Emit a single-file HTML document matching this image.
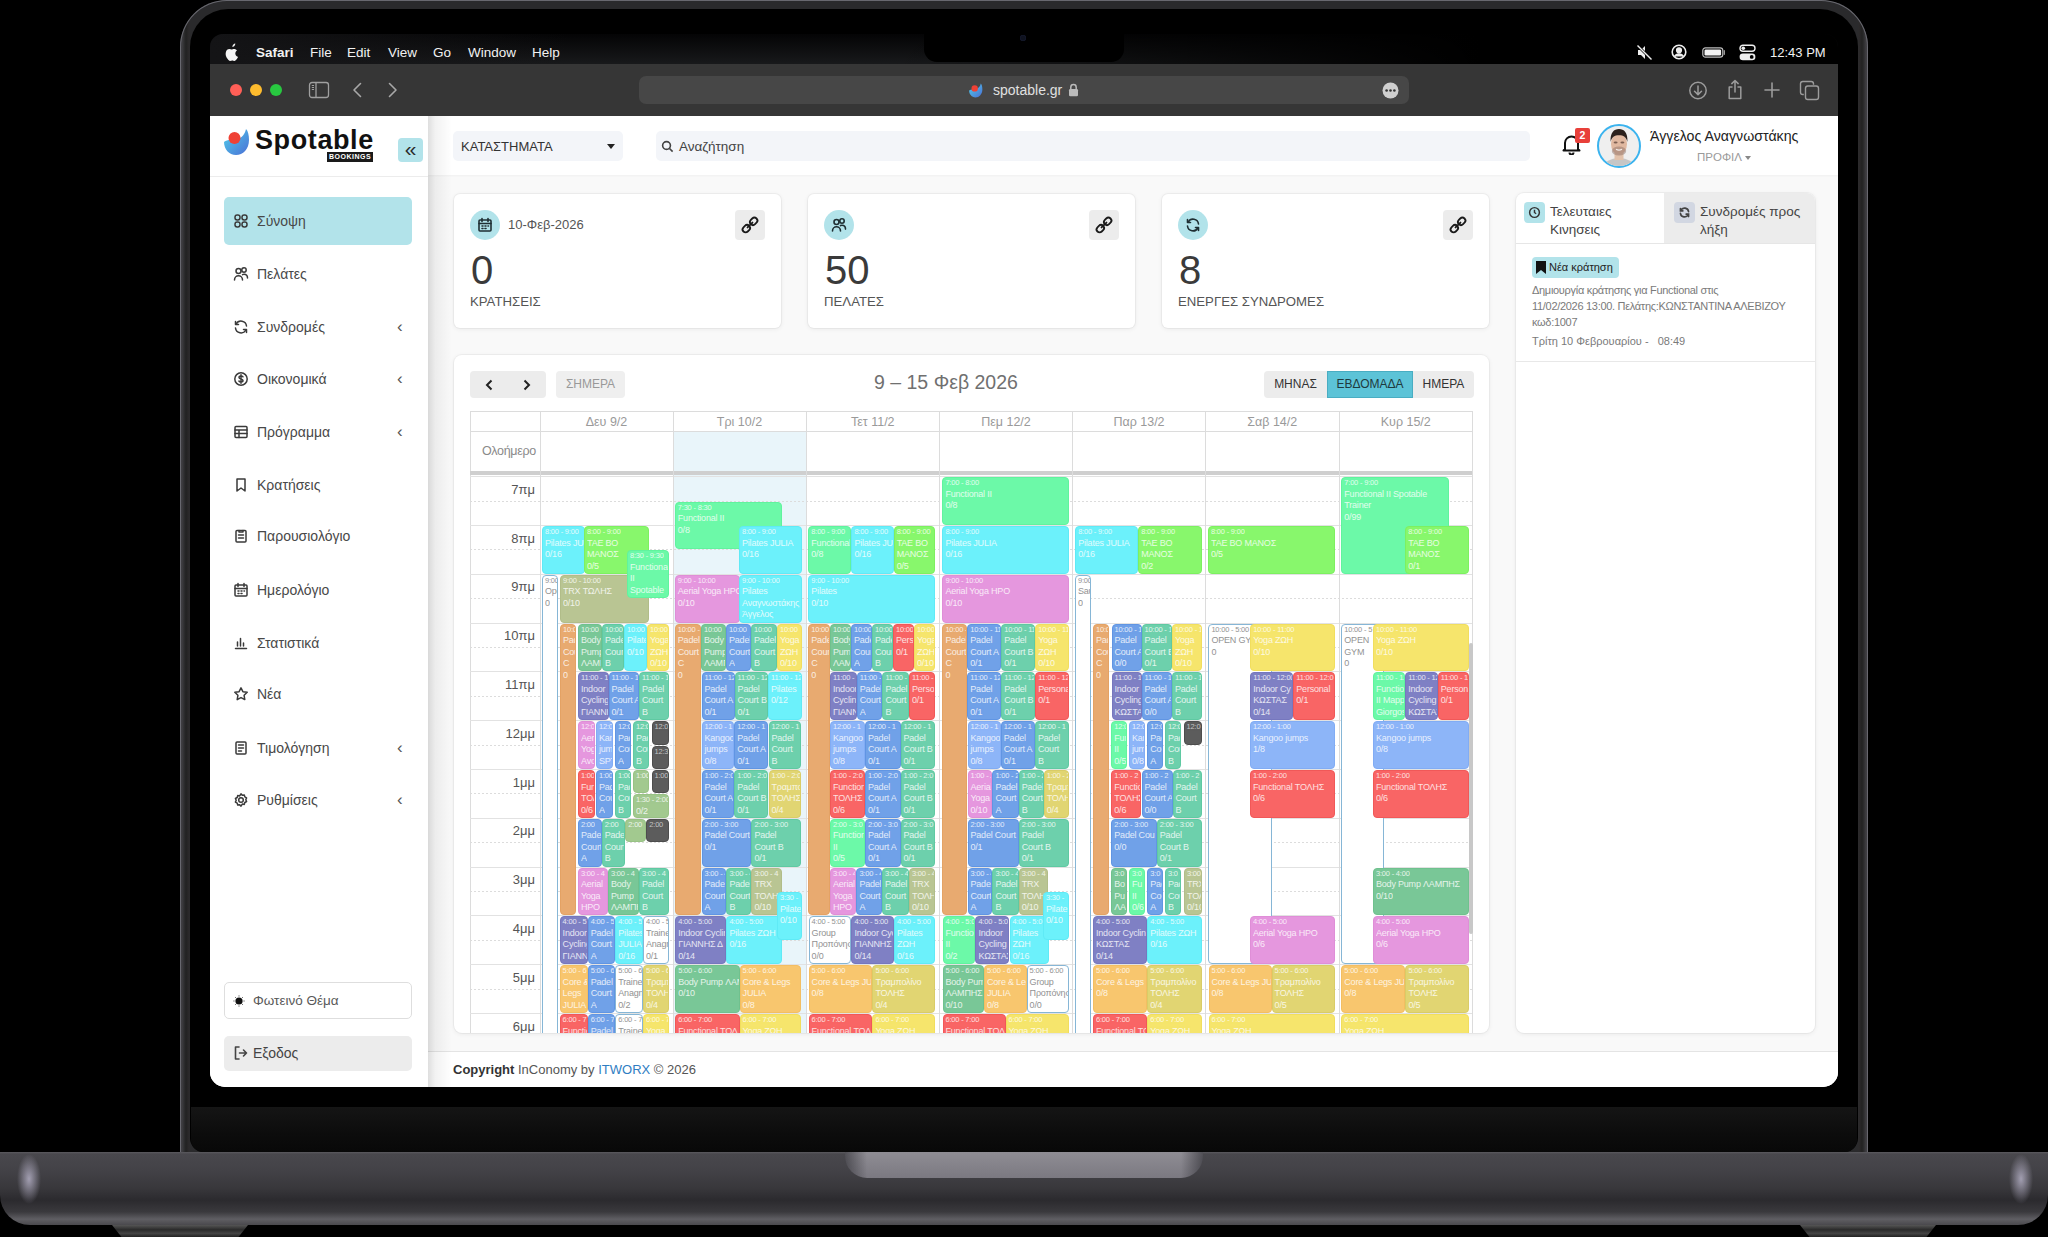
<!DOCTYPE html>
<html><head><meta charset="utf-8"><title>Spotable</title>
<style>
*{margin:0;padding:0;box-sizing:border-box}
html,body{width:2048px;height:1237px;overflow:hidden;background:#000;font-family:"Liberation Sans",sans-serif}
.abs,div,svg{position:absolute}
/* laptop */
.lid{left:180px;top:0;width:1688px;height:1160px;border-radius:47px 47px 0 0;background:linear-gradient(90deg,#403f43 0,#3e3d41 2px,#2b2b2c 4.5px,#222 6px,#2c2a2b 9px,#2a2a2c 10px,#2a2a2c calc(100% - 10px),#2c2a2b calc(100% - 9px),#222 calc(100% - 6px),#2b2b2c calc(100% - 4.5px),#3e3d41 calc(100% - 2px),#403f43 100%);}
.lid:before{content:"";position:absolute;left:0;top:0;right:0;bottom:0;border-radius:47px 47px 0 0;box-shadow:inset 0 0 0 1px #68686f}
.lidin{left:190px;top:9px;width:1668px;height:1143px;border-radius:38px 38px 14px 14px;background:#000}
.strip{left:191px;top:1107px;width:1666px;height:45px;border-radius:0 0 12px 12px;background:linear-gradient(180deg,#151515,#0c0c0c 60%,#080808)}
.base{left:0;top:1152px;width:2048px;height:73px;border-radius:0 0 30px 30px;background:linear-gradient(180deg,#5b5a5f 0,#49484d 2px,#434247 25%,#38373b 50%,#2b2a2e 66%,#3a393d 82%,#5f5e63 92%,#4a494d 100%)}
.hilite{top:1154px;width:30px;height:50px;background:radial-gradient(ellipse 40% 50% at center,rgba(205,200,225,.7),rgba(205,200,225,0) 100%)}
.thumb{left:845px;top:1152px;width:358px;height:26px;border-radius:0 0 22px 22px;background:linear-gradient(90deg,rgba(30,30,35,.55) 0,rgba(30,30,35,0) 22px,rgba(30,30,35,0) 336px,rgba(30,30,35,.55) 100%),linear-gradient(180deg,#8f8d94,#7b7981);}
.foot{top:1225px;width:136px;height:12px;background:linear-gradient(180deg,#555,#2a2a2a 40%,#444 70%,#222);clip-path:polygon(0 0,100% 0,93% 100%,7% 100%)}
.screen{left:210px;top:34px;width:1628px;height:1053px;border-radius:13px 13px 15px 15px;overflow:hidden;background:#000}
.pg{left:-210px;top:-34px;width:2048px;height:1237px}
.menubar{left:210px;top:34px;width:1628px;height:30px;background:linear-gradient(90deg,rgba(0,0,0,0) 42%,#000 78%),linear-gradient(90deg,#141416 0,rgba(20,20,22,0) 22%),linear-gradient(180deg,#040405,#18191b)}
.mi{top:45px;font-size:13.5px;color:#f2f2f2;line-height:16px;white-space:nowrap}
.toolbar{left:210px;top:64px;width:1628px;height:52px;background:#363636}
.tl3{width:12px;height:12px;border-radius:50%;top:84px}
.addr{left:639px;top:76px;width:770px;height:28px;border-radius:7px;background:#474747}
.notch{left:924px;top:9px;width:200px;height:53px;border-radius:0 0 13px 13px;background:#000}
/* page */
.web{left:210px;top:116px;width:1628px;height:971px;background:#f9f9f9}
.side{left:210px;top:116px;width:218px;height:971px;background:#fff}
.sshadow{left:428px;top:116px;width:24px;height:971px;background:linear-gradient(90deg,rgba(0,0,0,.13),rgba(0,0,0,.05) 30%,rgba(0,0,0,0))}
.topbar{left:428px;top:116px;width:1410px;height:59px;background:#fff;box-shadow:0 1px 2px rgba(0,0,0,.04)}
.nv{left:257px;font-size:14px;color:#484848;line-height:18px;white-space:nowrap}
.chev{left:397px;font-size:17px;color:#555;line-height:17px}
.ic{position:absolute}
.card{background:#fff;border-radius:6px;box-shadow:0 0 0 1px rgba(0,0,0,.035),0 1px 5px rgba(0,0,0,.07)}
.hl{left:470px;width:1003px;height:1px;background:#e2e2e2}
.hd{left:470px;width:1003px;height:1px;background:repeating-linear-gradient(90deg,#dcdcdc 0,#dcdcdc 2px,transparent 2px,transparent 4px)}
.tl{left:470px;width:65px;text-align:right;font-size:13px;color:#555;line-height:16px}
.vl{top:411px;width:1px;height:640px;background:#dcdcdc}
.dh{top:412px;height:20px;text-align:center;font-size:12.5px;color:#9a9a9a;line-height:21px}
.ev{border:1px solid;border-radius:4px;overflow:hidden;padding:0 0 0 2px;white-space:nowrap;letter-spacing:-0.2px}
.et{position:relative;font-size:7.5px;line-height:10.5px;opacity:.8}
.el{position:relative;font-size:9px;line-height:11.5px;opacity:.8}

</style></head>
<body>
<div class="lid"></div>
<div class="lidin"></div>
<div class="strip"></div>
<div class="base"></div>
<div class="hilite" style="left:14px"></div>
<div class="hilite" style="left:2006px"></div>
<div class="thumb"></div>
<div class="foot" style="left:112px"></div>
<div class="foot" style="left:1800px"></div>

<div class="screen"><div class="pg">
  <div class="menubar"></div>
  <div class="mi" style="left:256px;font-weight:bold">Safari</div>
  <div class="mi" style="left:310px">File</div>
  <div class="mi" style="left:347px">Edit</div>
  <div class="mi" style="left:388px">View</div>
  <div class="mi" style="left:433px">Go</div>
  <div class="mi" style="left:468px">Window</div>
  <div class="mi" style="left:532px">Help</div>
  <div class="mi" style="left:1770px;font-size:13px">12:43 PM</div>

  <div class="toolbar"></div>
  <div class="tl3" style="left:230px;background:#ff5f57"></div>
  <div class="tl3" style="left:250px;background:#febc2e"></div>
  <div class="tl3" style="left:270px;background:#28c840"></div>
  <div class="addr"></div>
  <div class="mi" style="left:993px;top:82px;font-size:14px;color:#e0e0e0">spotable.gr</div>


  <svg style="left:224px;top:42px;width:16px;height:19px" viewBox="0 0 170 200"><path fill="#f5f5f5" d="M150 156c-4 9-8 17-14 25-8 11-15 19-25 19-8 0-13-5-23-5s-16 5-24 5c-10 0-17-9-25-20C22 161 12 132 20 105c5-18 19-31 37-31 10 0 18 6 24 6s15-7 27-6c5 0 20 2 30 16-1 1-18 11-18 32 0 26 23 35 24 35zM112 40c5-7 9-16 8-25-8 0-17 5-23 12-5 6-9 15-8 24 9 1 18-5 23-11z"/></svg>
  <svg style="left:1636px;top:44px;width:18px;height:17px" viewBox="0 0 18 17" fill="#eee"><path d="M2 6h3l4-4v13l-4-4H2z"/><path d="M1.5 1.5l14 14" stroke="#000" stroke-width="2.6"/><path d="M1.5 1.5l14 14" stroke="#eee" stroke-width="1.4"/></svg>
  <svg style="left:1671px;top:44px;width:16px;height:16px" viewBox="0 0 16 16" fill="none" stroke="#eee" stroke-width="1.6"><circle cx="8" cy="8" r="6.8"/><circle cx="8" cy="6.3" r="2.3" fill="#eee"/><path d="M3.5 12.6c1-1.8 2.6-2.6 4.5-2.6s3.5.8 4.5 2.6" fill="#eee"/></svg>
  <svg style="left:1702px;top:47px;width:24px;height:11px" viewBox="0 0 24 11"><rect x="0.8" y="0.8" width="20" height="9.4" rx="2.6" fill="none" stroke="#bbb" stroke-width="1.2"/><rect x="2.5" y="2.5" width="16.6" height="6" rx="1.3" fill="#f2f2f2"/><path d="M22.3 3.8v3.4" stroke="#999" stroke-width="1.4" stroke-linecap="round"/></svg>
  <svg style="left:1739px;top:44px;width:17px;height:17px" viewBox="0 0 17 17"><rect x="1" y="1.2" width="15" height="6" rx="3" fill="none" stroke="#eee" stroke-width="1.4"/><circle cx="4.3" cy="4.2" r="1.8" fill="#eee"/><rect x="0.6" y="9.6" width="15.8" height="6.6" rx="3.3" fill="#eee"/><circle cx="12.7" cy="12.9" r="1.9" fill="#000"/></svg>

  <svg style="left:308px;top:81px;width:22px;height:18px" viewBox="0 0 22 18" fill="none" stroke="#a0a0a0" stroke-width="1.3"><rect x="1.5" y="1.5" width="19" height="15" rx="2.5"/><path d="M8 1.5v15"/><path d="M3.8 4.5h2.2M3.8 6.5h2.2M3.8 8.5h2.2" stroke-width="1"/></svg>
  <svg style="left:351px;top:82px;width:12px;height:16px" viewBox="0 0 12 16" fill="none" stroke="#a8a8a8" stroke-width="1.6" stroke-linecap="round" stroke-linejoin="round"><path d="M9.5 1.5L3 8l6.5 6.5"/></svg>
  <svg style="left:387px;top:82px;width:12px;height:16px" viewBox="0 0 12 16" fill="none" stroke="#a8a8a8" stroke-width="1.6" stroke-linecap="round" stroke-linejoin="round"><path d="M2.5 1.5L9 8l-6.5 6.5"/></svg>
  <svg style="left:967px;top:82px;width:18px;height:17px" viewBox="0 0 30 32">
    <defs><linearGradient id="lg2" x1="0" y1="0" x2="1" y2="1"><stop offset="0" stop-color="#4fd0ea"/><stop offset="1" stop-color="#4b6fd6"/></linearGradient></defs>
    <path d="M2 16c0 7 5 13 12 13s13-6 13-15c0-5-1-9-3-11-1 5-4 9-9 10-5 1-9 0-13 3z" fill="url(#lg2)"/><circle cx="12.5" cy="12" r="6" fill="#ef4135"/></svg>
  <svg style="left:1068px;top:83px;width:11px;height:14px" viewBox="0 0 11 14"><path d="M2.8 6V4.3a2.7 2.7 0 0 1 5.4 0V6" fill="none" stroke="#bbb" stroke-width="1.5"/><rect x="1" y="6" width="9" height="7.2" rx="1.3" fill="#bbb"/></svg>
  <svg style="left:1382px;top:82px;width:17px;height:17px" viewBox="0 0 17 17"><circle cx="8.5" cy="8.5" r="8" fill="#cfcfcf"/><circle cx="4.6" cy="8.5" r="1.3" fill="#333"/><circle cx="8.5" cy="8.5" r="1.3" fill="#333"/><circle cx="12.4" cy="8.5" r="1.3" fill="#333"/></svg>
  <svg style="left:1688px;top:81px;width:20px;height:19px" viewBox="0 0 20 19" fill="none" stroke="#9c9c9c" stroke-width="1.5" stroke-linecap="round" stroke-linejoin="round"><circle cx="10" cy="9.5" r="8.2"/><path d="M10 5v8.5M6.5 10.2L10 13.6l3.5-3.4"/></svg>
  <svg style="left:1726px;top:79px;width:18px;height:21px" viewBox="0 0 18 21" fill="none" stroke="#9c9c9c" stroke-width="1.5" stroke-linecap="round" stroke-linejoin="round"><path d="M6 8H3.2v11.5h11.6V8H12"/><path d="M9 13V1.5M5.8 4.6L9 1.5l3.2 3.1"/></svg>
  <svg style="left:1763px;top:81px;width:18px;height:18px" viewBox="0 0 18 18" fill="none" stroke="#9c9c9c" stroke-width="1.6" stroke-linecap="round"><path d="M9 2v14M2 9h14"/></svg>
  <svg style="left:1799px;top:80px;width:22px;height:21px" viewBox="0 0 22 21" fill="none" stroke="#9c9c9c" stroke-width="1.4"><path d="M4.8 14.5H3.8a2.3 2.3 0 0 1-2.3-2.3V3.8a2.3 2.3 0 0 1 2.3-2.3h8.4a2.3 2.3 0 0 1 2.3 2.3v1"/><rect x="6.5" y="6" width="13" height="13.5" rx="2.3"/></svg>

  <div class="web"></div>
  <div class="topbar"></div>
  <div class="side"></div>

  <!-- sidebar header -->
  <div style="left:210px;top:176px;width:218px;height:1px;background:#ececec"></div>
  <svg style="left:222px;top:126px;width:30px;height:32px" viewBox="0 0 30 32">
    <defs><linearGradient id="lg1" x1="0" y1="0" x2="1" y2="1"><stop offset="0" stop-color="#4fd0ea"/><stop offset="1" stop-color="#4b6fd6"/></linearGradient></defs>
    <path d="M2 16c0 7 5 13 12 13s13-6 13-15c0-5-1-9-3-11-1 5-4 9-9 10-5 1-9 0-13 3z" fill="url(#lg1)"/>
    <circle cx="12.5" cy="12" r="6" fill="#ef4135"/>
  </svg>
  <div style="left:255px;top:121.5px;font-size:27px;font-weight:bold;color:#111;letter-spacing:0.6px;line-height:36px">Spotable</div>
  <div style="left:327px;top:152px;width:46px;height:10px;background:#1a1a1a;color:#fff;font-size:7px;font-weight:bold;line-height:10px;text-align:center;letter-spacing:.5px">BOOKINGS</div>
  <div style="left:398px;top:138px;width:25px;height:24px;border-radius:4px;background:#b2e3ea;color:#2a2a2a;font-size:21px;line-height:22px;text-align:center">&laquo;</div>
  <div style="left:224px;top:197px;width:188px;height:48px;border-radius:5px;background:#b2e3ea"></div>
  <svg class="ic" style="left:233px;top:213px;width:16px;height:16px" viewBox="0 0 16 16" fill="none" stroke="#3a3a3a" stroke-width="1.5" stroke-linecap="round" stroke-linejoin="round"><rect x="2" y="2" width="5" height="5" rx="2.2"/><rect x="9" y="2" width="5" height="5" rx="2.2"/><rect x="2" y="9" width="5" height="5" rx="2.2"/><rect x="9" y="9" width="5" height="5" rx="2.2"/></svg>
<div class="nv" style="top:212px">Σύνοψη</div>
<svg class="ic" style="left:233px;top:266px;width:16px;height:16px" viewBox="0 0 16 16" fill="none" stroke="#3a3a3a" stroke-width="1.5" stroke-linecap="round" stroke-linejoin="round"><circle cx="5.5" cy="5" r="2.5"/><path d="M1.5 14c0-2.5 1.8-4.2 4-4.2s4 1.7 4 4.2"/><circle cx="11" cy="4" r="2.2"/><path d="M9.5 8.6c.5-.2 1-.3 1.5-.3 2 0 3.5 1.6 3.5 3.8"/></svg>
<div class="nv" style="top:265px">Πελάτες</div>
<svg class="ic" style="left:233px;top:319px;width:16px;height:16px" viewBox="0 0 16 16" fill="none" stroke="#3a3a3a" stroke-width="1.5" stroke-linecap="round" stroke-linejoin="round"><path d="M13.5 7A5.5 5.5 0 0 0 3.2 5"/><path d="M2.5 9a5.5 5.5 0 0 0 10.3 2"/><path d="M2.5 2.5v3h3"/><path d="M13.5 13.5v-3h-3"/></svg>
<div class="nv" style="top:318px">Συνδρομές</div>
<div class="chev" style="top:318px">&lsaquo;</div>
<svg class="ic" style="left:233px;top:371px;width:16px;height:16px" viewBox="0 0 16 16" fill="none" stroke="#3a3a3a" stroke-width="1.5" stroke-linecap="round" stroke-linejoin="round"><circle cx="8" cy="8" r="6.2"/><path d="M10 5.8c-.4-.6-1.1-.9-2-.9-1.2 0-2 .6-2 1.5 0 2 4 1.1 4 3.1 0 .9-.8 1.5-2 1.5-.9 0-1.7-.4-2.1-1M8 3.8v8.4"/></svg>
<div class="nv" style="top:370px">Οικονομικά</div>
<div class="chev" style="top:370px">&lsaquo;</div>
<svg class="ic" style="left:233px;top:424px;width:16px;height:16px" viewBox="0 0 16 16" fill="none" stroke="#3a3a3a" stroke-width="1.5" stroke-linecap="round" stroke-linejoin="round"><rect x="2" y="2.5" width="12" height="11" rx="1"/><path d="M2 6h12M2 9.5h12M6 6v7.5"/></svg>
<div class="nv" style="top:423px">Πρόγραμμα</div>
<div class="chev" style="top:423px">&lsaquo;</div>
<svg class="ic" style="left:233px;top:477px;width:16px;height:16px" viewBox="0 0 16 16" fill="none" stroke="#3a3a3a" stroke-width="1.5" stroke-linecap="round" stroke-linejoin="round"><path d="M4 2h8v12l-4-3-4 3z"/></svg>
<div class="nv" style="top:476px">Κρατήσεις</div>
<svg class="ic" style="left:233px;top:528px;width:16px;height:16px" viewBox="0 0 16 16" fill="none" stroke="#3a3a3a" stroke-width="1.5" stroke-linecap="round" stroke-linejoin="round"><rect x="3" y="2.5" width="10" height="11.5" rx="1"/><path d="M6 2.5v1.5h4V2.5M5.5 7h5M5.5 10h5"/></svg>
<div class="nv" style="top:527px">Παρουσιολόγιο</div>
<svg class="ic" style="left:233px;top:582px;width:16px;height:16px" viewBox="0 0 16 16" fill="none" stroke="#3a3a3a" stroke-width="1.5" stroke-linecap="round" stroke-linejoin="round"><rect x="2" y="3" width="12" height="11" rx="1"/><path d="M2 6.5h12M5 1.5v3M11 1.5v3M5 9h1M8 9h1M11 9h.5M5 11.5h1M8 11.5h1"/></svg>
<div class="nv" style="top:581px">Ημερολόγιο</div>
<svg class="ic" style="left:233px;top:635px;width:16px;height:16px" viewBox="0 0 16 16" fill="none" stroke="#3a3a3a" stroke-width="1.5" stroke-linecap="round" stroke-linejoin="round"><path d="M2.5 13.5h11M4.5 11V7M7.5 11V3.5M10.5 11V8"/></svg>
<div class="nv" style="top:634px">Στατιστικά</div>
<svg class="ic" style="left:233px;top:686px;width:16px;height:16px" viewBox="0 0 16 16" fill="none" stroke="#3a3a3a" stroke-width="1.5" stroke-linecap="round" stroke-linejoin="round"><path d="M8 1.8l1.9 3.9 4.3.6-3.1 3 .7 4.3L8 11.6l-3.8 2 .7-4.3-3.1-3 4.3-.6z"/></svg>
<div class="nv" style="top:685px">Νέα</div>
<svg class="ic" style="left:233px;top:740px;width:16px;height:16px" viewBox="0 0 16 16" fill="none" stroke="#3a3a3a" stroke-width="1.5" stroke-linecap="round" stroke-linejoin="round"><rect x="3" y="2" width="10" height="12" rx="1"/><path d="M5.5 5h5M5.5 8h5M5.5 11h3"/></svg>
<div class="nv" style="top:739px">Τιμολόγηση</div>
<div class="chev" style="top:739px">&lsaquo;</div>
<svg class="ic" style="left:233px;top:792px;width:16px;height:16px" viewBox="0 0 16 16" fill="none" stroke="#3a3a3a" stroke-width="1.5" stroke-linecap="round" stroke-linejoin="round"><circle cx="8" cy="8" r="2.3"/><path d="M8 1.8l1.3 1.5 2-.3.5 1.9 1.8 1-.8 1.8.8 1.8-1.8 1-.5 1.9-2-.3L8 14.2l-1.3-1.5-2 .3-.5-1.9-1.8-1 .8-1.8-.8-1.8 1.8-1 .5-1.9 2 .3z"/></svg>
<div class="nv" style="top:791px">Ρυθμίσεις</div>
<div class="chev" style="top:791px">&lsaquo;</div>
  <div style="left:224px;top:982px;width:188px;height:37px;border-radius:5px;border:1.5px solid #dedede;background:#fff"></div>
  <svg class="ic" style="left:233px;top:995px;width:12px;height:12px" viewBox="0 0 12 12"><circle cx="6" cy="6" r="3.6" fill="#111"/><path d="M6 .3v1.3M6 10.4v1.3M.3 6h1.3M10.4 6h1.3M2 2l.9.9M9.1 9.1l.9.9M2 10l.9-.9M9.1 2.9l.9-.9" stroke="#555" stroke-width=".9"/></svg>
  <div class="nv" style="left:253px;top:992px;font-size:13.5px;color:#5a5a5a">Φωτεινό Θέμα</div>
  <div style="left:224px;top:1036px;width:188px;height:35px;border-radius:5px;background:#ececec"></div>
  <svg class="ic" style="left:233px;top:1045px;width:16px;height:16px" viewBox="0 0 16 16" fill="none" stroke="#444" stroke-width="1.6" stroke-linecap="round" stroke-linejoin="round"><path d="M6 2H2.5v12H6M6.5 8h7M10.5 5l3 3-3 3"/></svg>
  <div class="nv" style="left:253px;top:1044px;font-size:14px;color:#444">Εξοδος</div>

  <!-- topbar -->
  <div style="left:453px;top:131px;width:170px;height:30px;border-radius:5px;background:#f3f5f9"></div>
  <div style="left:461px;top:139px;font-size:13px;color:#333;line-height:15px">ΚΑΤΑΣΤΗΜΑΤΑ</div>
  <div style="left:607px;top:144px;width:0;height:0;border-left:4px solid transparent;border-right:4px solid transparent;border-top:5px solid #222"></div>
  <div style="left:656px;top:131px;width:874px;height:30px;border-radius:5px;background:#f3f5f9"></div>
  <svg class="ic" style="left:661px;top:140px;width:13px;height:13px" viewBox="0 0 16 16" fill="none" stroke="#444" stroke-width="2"><circle cx="6.8" cy="6.8" r="4.8"/><path d="M10.5 10.5l3.8 3.8"/></svg>
  <div style="left:679px;top:139px;font-size:13.5px;color:#444;line-height:15px">Αναζήτηση</div>
  <svg class="ic" style="left:1562px;top:133px;width:19px;height:22px" viewBox="0 0 19 22" fill="none" stroke="#111" stroke-width="2" stroke-linejoin="round"><path d="M3 16V10a6.5 6.5 0 0 1 13 0v6l1.5 1.5h-16z"/><path d="M7.5 19.5a2 2 0 0 0 4 0"/></svg>
  <div style="left:1575px;top:128px;width:15px;height:15px;border-radius:2px;background:#e8403a;color:#fff;font-size:10.5px;font-weight:bold;line-height:15px;text-align:center">2</div>
  <div style="left:1597px;top:124px;width:44px;height:44px;border-radius:50%;border:2px solid #3bb3ee;background:#efefef;overflow:hidden">
    <svg style="left:0;top:0;width:40px;height:40px" viewBox="0 0 40 40">
      <ellipse cx="20" cy="41" rx="15.5" ry="9" fill="#c6c6c6"/>
      <rect x="15.5" y="25" width="9" height="9" fill="#e2c2ab"/>
      <ellipse cx="20" cy="18" rx="8" ry="10.5" fill="#e0b8a0"/>
      <ellipse cx="20" cy="25" rx="7.2" ry="4.6" fill="#8f746a" opacity=".5"/>
      <path d="M11.6 16C11 6.5 15 3 20 3s9 3.5 8.4 13c-1-5-4-6.8-8.4-6.8S12.6 11 11.6 16z" fill="#2b211d"/>
      <ellipse cx="16.6" cy="16.5" rx="2" ry="1.1" fill="#5b4238" opacity=".75"/>
      <ellipse cx="23.4" cy="16.5" rx="2" ry="1.1" fill="#5b4238" opacity=".75"/>
      <path d="M17 23.2q3 1.8 6 0" stroke="#f4ece8" stroke-width="1.3" fill="none"/>
    </svg>
  </div>
  <div style="left:1650px;top:128px;font-size:14.2px;color:#222;line-height:17px;white-space:nowrap">Άγγελος Αναγνωστάκης</div>
  <div style="left:1697px;top:151px;font-size:11.5px;color:#9a9a9a;line-height:13px">ΠΡΟΦΙΛ</div>
  <div style="left:1745px;top:156px;width:0;height:0;border-left:3.5px solid transparent;border-right:3.5px solid transparent;border-top:4px solid #888"></div>

  <!-- stat cards -->
  <div class="card" style="left:454px;top:194px;width:327px;height:134px"></div>
  <div class="card" style="left:808px;top:194px;width:327px;height:134px"></div>
  <div class="card" style="left:1162px;top:194px;width:327px;height:134px"></div>
  <div style="left:470px;top:210px;width:30px;height:30px;border-radius:50%;background:#b2e3ea"></div>
<svg class="ic" style="left:477px;top:217px;width:16px;height:16px" viewBox="0 0 16 16" fill="none" stroke="#1f2f33" stroke-width="1.6" stroke-linecap="round" stroke-linejoin="round"><rect x="2" y="3" width="12" height="11" rx="1"/><path d="M2 6.5h12M5 1.5v3M11 1.5v3M5 9h1M8 9h1M11 9h.5M5 11.5h1M8 11.5h1"/></svg>
<div style="left:508px;top:217px;font-size:13px;color:#555;line-height:16px">10-Φεβ-2026</div>
<div style="left:735px;top:210px;width:30px;height:30px;border-radius:4px;background:#ececec"></div>
<svg class="ic" style="left:739px;top:214px;width:22px;height:22px" viewBox="0 0 22 22" fill="none" stroke="#1a1a1a" stroke-width="1.8" stroke-linecap="round"><g transform="rotate(-45 11 11)"><rect x="1.8" y="8" width="8" height="6" rx="3"/><rect x="12.2" y="8" width="8" height="6" rx="3"/><path d="M7.5 11h7"/></g></svg>
<div style="left:471px;top:248px;font-size:40px;color:#3a3a3a;line-height:44px">0</div>
<div style="left:470px;top:294px;font-size:13.2px;color:#555;line-height:16px;white-space:nowrap">ΚΡΑΤΗΣΕΙΣ</div>
<div style="left:824px;top:210px;width:30px;height:30px;border-radius:50%;background:#b2e3ea"></div>
<svg class="ic" style="left:831px;top:217px;width:16px;height:16px" viewBox="0 0 16 16" fill="none" stroke="#1f2f33" stroke-width="1.6" stroke-linecap="round" stroke-linejoin="round"><circle cx="5.5" cy="5" r="2.5"/><path d="M1.5 14c0-2.5 1.8-4.2 4-4.2s4 1.7 4 4.2"/><circle cx="11" cy="4" r="2.2"/><path d="M9.5 8.6c.5-.2 1-.3 1.5-.3 2 0 3.5 1.6 3.5 3.8"/></svg>
<div style="left:1089px;top:210px;width:30px;height:30px;border-radius:4px;background:#ececec"></div>
<svg class="ic" style="left:1093px;top:214px;width:22px;height:22px" viewBox="0 0 22 22" fill="none" stroke="#1a1a1a" stroke-width="1.8" stroke-linecap="round"><g transform="rotate(-45 11 11)"><rect x="1.8" y="8" width="8" height="6" rx="3"/><rect x="12.2" y="8" width="8" height="6" rx="3"/><path d="M7.5 11h7"/></g></svg>
<div style="left:825px;top:248px;font-size:40px;color:#3a3a3a;line-height:44px">50</div>
<div style="left:824px;top:294px;font-size:13.2px;color:#555;line-height:16px;white-space:nowrap">ΠΕΛΑΤΕΣ</div>
<div style="left:1178px;top:210px;width:30px;height:30px;border-radius:50%;background:#b2e3ea"></div>
<svg class="ic" style="left:1185px;top:217px;width:16px;height:16px" viewBox="0 0 16 16" fill="none" stroke="#1f2f33" stroke-width="1.6" stroke-linecap="round" stroke-linejoin="round"><path d="M13.5 7A5.5 5.5 0 0 0 3.2 5"/><path d="M2.5 9a5.5 5.5 0 0 0 10.3 2"/><path d="M2.5 2.5v3h3"/><path d="M13.5 13.5v-3h-3"/></svg>
<div style="left:1443px;top:210px;width:30px;height:30px;border-radius:4px;background:#ececec"></div>
<svg class="ic" style="left:1447px;top:214px;width:22px;height:22px" viewBox="0 0 22 22" fill="none" stroke="#1a1a1a" stroke-width="1.8" stroke-linecap="round"><g transform="rotate(-45 11 11)"><rect x="1.8" y="8" width="8" height="6" rx="3"/><rect x="12.2" y="8" width="8" height="6" rx="3"/><path d="M7.5 11h7"/></g></svg>
<div style="left:1179px;top:248px;font-size:40px;color:#3a3a3a;line-height:44px">8</div>
<div style="left:1178px;top:294px;font-size:13.2px;color:#555;line-height:16px;white-space:nowrap">ΕΝΕΡΓΕΣ ΣΥΝΔΡΟΜΕΣ</div>

  <!-- right panel -->
  <div class="card" style="left:1516px;top:193px;width:299px;height:840px;border-radius:8px"></div>
  <div style="left:1664px;top:193px;width:151px;height:50px;background:#ececec;border-radius:0 8px 0 0"></div>
  <div style="left:1516px;top:243px;width:299px;height:1px;background:#e6e6e6"></div>
  <div style="left:1524px;top:202px;width:21px;height:21px;border-radius:4px;background:#b2e3ea"></div>
  <svg class="ic" style="left:1528px;top:206px;width:13px;height:13px" viewBox="0 0 16 16" fill="none" stroke="#333" stroke-width="1.8"><circle cx="8" cy="8" r="6"/><path d="M8 4.5V8l2 1.5"/></svg>
  <div style="left:1550px;top:203px;font-size:13.5px;color:#444;line-height:18px">Τελευταιες<br>Κινησεις</div>
  <div style="left:1674px;top:202px;width:21px;height:21px;border-radius:4px;background:#d2d7e2"></div>
  <svg class="ic" style="left:1678px;top:206px;width:13px;height:13px" viewBox="0 0 16 16" fill="none" stroke="#444" stroke-width="2" stroke-linecap="round"><path d="M13 7A5 5 0 0 0 3.5 5.5M3 9a5 5 0 0 0 9.5 1.5M3 3v3h3M13 13v-3h-3"/></svg>
  <div style="left:1700px;top:203px;font-size:13.5px;color:#444;line-height:18px;white-space:nowrap">Συνδρομές προς<br>λήξη</div>
  <div style="left:1532px;top:257px;width:87px;height:21px;border-radius:4px;background:#b2e3ea"></div>
  <svg class="ic" style="left:1536px;top:261px;width:10px;height:13px" viewBox="0 0 10 13"><path d="M0 0h10v13L5 9 0 13z" fill="#111"/></svg>
  <div style="left:1549px;top:261px;font-size:11px;color:#222;line-height:13px;white-space:nowrap">Νέα κράτηση</div>
  <div style="left:1532px;top:282px;font-size:11px;color:#7a7a7a;line-height:16.2px;white-space:nowrap;letter-spacing:-0.3px">Δημιουργία κράτησης για Functional στις<br>11/02/2026 13:00. Πελάτης:ΚΩΝΣΤΑΝΤΙΝΑ ΑΛΕΒΙΖΟΥ<br>κωδ:1007</div>
  <div style="left:1532px;top:334px;font-size:11px;color:#7a7a7a;line-height:14px;white-space:pre">Τρίτη 10 Φεβρουαρίου -   08:49</div>
  <div style="left:1516px;top:361px;width:299px;height:1px;background:#e8e8e8"></div>

  <!-- calendar -->
  <div class="card" style="left:454px;top:355px;width:1035px;height:678px;border-radius:8px"></div>
  <div style="left:470px;top:371px;width:76px;height:27px;border-radius:4px;background:#ececec"></div>
  <svg class="ic" style="left:483px;top:378px;width:12px;height:14px" viewBox="0 0 12 14" fill="none" stroke="#222" stroke-width="2"><path d="M8.5 2.5L4 7l4.5 4.5"/></svg>
  <svg class="ic" style="left:521px;top:378px;width:12px;height:14px" viewBox="0 0 12 14" fill="none" stroke="#222" stroke-width="2"><path d="M3.5 2.5L8 7l-4.5 4.5"/></svg>
  <div style="left:556px;top:371px;width:69px;height:27px;border-radius:4px;background:#efefef;color:#999;font-size:12px;line-height:27px;text-align:center">ΣΗΜΕΡΑ</div>
  <div style="left:874px;top:370px;font-size:19.5px;color:#707070;line-height:24px;white-space:nowrap">9 – 15 Φεβ 2026</div>
  <div style="left:1264px;top:371px;width:210px;height:27px;border-radius:4px;background:#ececec"></div>
  <div style="left:1327px;top:371px;width:86px;height:27px;background:#5cc3d7;border:1px solid #49adc2"></div>
  <div style="left:1264px;top:371px;width:63px;font-size:12px;color:#333;line-height:27px;text-align:center">ΜΗΝΑΣ</div>
  <div style="left:1327px;top:371px;width:86px;font-size:12px;color:#1f3a40;line-height:27px;text-align:center">ΕΒΔΟΜΑΔΑ</div>
  <div style="left:1413px;top:371px;width:61px;font-size:12px;color:#333;line-height:27px;text-align:center">ΗΜΕΡΑ</div>

  <div style="left:470px;top:411px;width:1003px;height:622px;border:1px solid #dcdcdc;border-bottom:none"></div>
  <div style="left:673px;top:431px;width:133px;height:602px;background:#e9f5fa"></div>
  <div style="left:470px;top:431px;width:1003px;height:1px;background:#dcdcdc"></div>
  <div style="left:470px;top:436px;width:66px;text-align:right;font-size:12.5px;color:#8a8a8a;line-height:30px;letter-spacing:-0.3px">Ολοήμερο</div>
  <div style="left:470px;top:471px;width:1003px;height:4px;background:#cfcfcf"></div>
  <div style="left:0;top:0;width:2048px;height:1033px;overflow:hidden">
    <div class="hl" style="top:476.2px"></div>
<div class="hd" style="top:500.6px"></div>
<div class="hl" style="top:525.0px"></div>
<div class="hd" style="top:549.4px"></div>
<div class="hl" style="top:573.8px"></div>
<div class="hd" style="top:598.2px"></div>
<div class="hl" style="top:622.6px"></div>
<div class="hd" style="top:647.0px"></div>
<div class="hl" style="top:671.4px"></div>
<div class="hd" style="top:695.8px"></div>
<div class="hl" style="top:720.2px"></div>
<div class="hd" style="top:744.6px"></div>
<div class="hl" style="top:769.0px"></div>
<div class="hd" style="top:793.4px"></div>
<div class="hl" style="top:817.8px"></div>
<div class="hd" style="top:842.2px"></div>
<div class="hl" style="top:866.6px"></div>
<div class="hd" style="top:891.0px"></div>
<div class="hl" style="top:915.4px"></div>
<div class="hd" style="top:939.8px"></div>
<div class="hl" style="top:964.2px"></div>
<div class="hd" style="top:988.6px"></div>
<div class="hl" style="top:1013.0px"></div>
<div class="hd" style="top:1037.4px"></div>
<div class="hl" style="top:1061.8px"></div>
<div class="hd" style="top:1086.2px"></div>
<div class="tl" style="top:481.7px">7πμ</div>
<div class="tl" style="top:530.5px">8πμ</div>
<div class="tl" style="top:579.3px">9πμ</div>
<div class="tl" style="top:628.1px">10πμ</div>
<div class="tl" style="top:676.9px">11πμ</div>
<div class="tl" style="top:725.7px">12μμ</div>
<div class="tl" style="top:774.5px">1μμ</div>
<div class="tl" style="top:823.3px">2μμ</div>
<div class="tl" style="top:872.1px">3μμ</div>
<div class="tl" style="top:920.9px">4μμ</div>
<div class="tl" style="top:969.7px">5μμ</div>
<div class="tl" style="top:1018.5px">6μμ</div>
<div class="tl" style="top:1067.3px">7μμ</div>
    <div class="dh" style="left:540.0px;width:133.0px">Δευ 9/2</div>
<div class="dh" style="left:673.0px;width:133.0px">Τρι 10/2</div>
<div class="dh" style="left:806.0px;width:133.5px">Τετ 11/2</div>
<div class="dh" style="left:939.5px;width:133.0px">Πεμ 12/2</div>
<div class="dh" style="left:1072.5px;width:133.0px">Παρ 13/2</div>
<div class="dh" style="left:1205.5px;width:133.5px">Σαβ 14/2</div>
<div class="dh" style="left:1339.0px;width:133.5px">Κυρ 15/2</div>
<div class="vl" style="left:539.5px"></div>
<div class="vl" style="left:672.5px"></div>
<div class="vl" style="left:805.5px"></div>
<div class="vl" style="left:939.0px"></div>
<div class="vl" style="left:1072.0px"></div>
<div class="vl" style="left:1205.0px"></div>
<div class="vl" style="left:1338.5px"></div>
<div class="vl" style="left:1472.0px"></div>
    <div class="ev" style="left:542.0px;top:526.0px;width:43.0px;height:47.8px;background:#6cf1fb;border-color:#5feaf6;color:#fff"><div class="et">8:00 - 9:00</div><div class="el">Pilates JULIA</div><div class="el">0/16</div></div>
<div class="ev" style="left:584.0px;top:526.0px;width:65.0px;height:47.8px;background:#88f76c;border-color:#7df060;color:#fff"><div class="et">8:00 - 9:00</div><div class="el">TAE BO</div><div class="el">ΜΑΝΟΣ</div><div class="el">0/5</div></div>
<div class="ev" style="left:542.0px;top:574.8px;width:16.0px;height:511.4px;background:#ffffff;border-color:#86b6d6;color:#777"><div class="et">9:00</div><div class="el">Open</div><div class="el">0</div></div>
<div class="ev" style="left:560.0px;top:574.8px;width:89.0px;height:47.8px;background:#b9c593;border-color:#b1bd89;color:#fff"><div class="et">9:00 - 10:00</div><div class="el">TRX ΤΩΛΗΣ</div><div class="el">0/10</div></div>
<div class="ev" style="left:627.0px;top:550.4px;width:42.0px;height:47.8px;background:#6cf9a8;border-color:#60f39e;color:#fff"><div class="et">8:30 - 9:30</div><div class="el">Functional</div><div class="el">II</div><div class="el">Spotable</div></div>
<div class="ev" style="left:560.0px;top:623.6px;width:15.5px;height:291.8px;background:#e8aa70;border-color:#e4a264;color:#fff"><div class="et">10:00</div><div class="el">Padel</div><div class="el">Court</div><div class="el">C</div><div class="el">0</div></div>
<div class="ev" style="left:578.0px;top:623.6px;width:24.0px;height:47.8px;background:#79c797;border-color:#6fc18e;color:#fff"><div class="et">10:00</div><div class="el">Body</div><div class="el">Pump</div><div class="el">ΛΑΜΠ</div></div>
<div class="ev" style="left:602.0px;top:623.6px;width:22.0px;height:47.8px;background:#6dd0ac;border-color:#5fc9a2;color:#fff"><div class="et">10:00</div><div class="el">Padel</div><div class="el">Court</div><div class="el">B</div></div>
<div class="ev" style="left:624.0px;top:623.6px;width:23.0px;height:47.8px;background:#6cf1fb;border-color:#5feaf6;color:#fff"><div class="et">10:00</div><div class="el">Pilates</div><div class="el">0/10</div></div>
<div class="ev" style="left:647.0px;top:623.6px;width:22.0px;height:47.8px;background:#f6e56c;border-color:#f1de5e;color:#fff"><div class="et">10:00</div><div class="el">Yoga</div><div class="el">ΖΩΗ</div><div class="el">0/10</div></div>
<div class="ev" style="left:578.0px;top:672.4px;width:30.5px;height:47.8px;background:#7f80c4;border-color:#7677be;color:#fff"><div class="et">11:00 - 12</div><div class="el">Indoor</div><div class="el">Cycling</div><div class="el">ΓΙΑΝΝΗ</div></div>
<div class="ev" style="left:608.5px;top:672.4px;width:30.5px;height:47.8px;background:#70a1e8;border-color:#6095e3;color:#fff"><div class="et">11:00 - 12</div><div class="el">Padel</div><div class="el">Court A</div><div class="el">0/1</div></div>
<div class="ev" style="left:639.0px;top:672.4px;width:30.0px;height:47.8px;background:#6dd0ac;border-color:#5fc9a2;color:#fff"><div class="et">11:00 - 12</div><div class="el">Padel</div><div class="el">Court</div><div class="el">B</div></div>
<div class="ev" style="left:578.0px;top:721.2px;width:16.5px;height:47.8px;background:#e597de;border-color:#df8ed7;color:#fff"><div class="et">12:00</div><div class="el">Aerial</div><div class="el">Yoga</div><div class="el">Avo</div></div>
<div class="ev" style="left:596.0px;top:721.2px;width:17.0px;height:47.8px;background:#8db5f8;border-color:#81acf4;color:#fff"><div class="et">12:00</div><div class="el">Kangoo</div><div class="el">jumps</div><div class="el">SPT</div></div>
<div class="ev" style="left:615.0px;top:721.2px;width:16.0px;height:47.8px;background:#70a1e8;border-color:#6095e3;color:#fff"><div class="et">12:00</div><div class="el">Padel</div><div class="el">Court</div><div class="el">A</div></div>
<div class="ev" style="left:633.0px;top:721.2px;width:16.0px;height:47.8px;background:#6dd0ac;border-color:#5fc9a2;color:#fff"><div class="et">12:00</div><div class="el">Padel</div><div class="el">Court</div><div class="el">B</div></div>
<div class="ev" style="left:651.5px;top:721.2px;width:17.5px;height:23.4px;background:#5c5c5c;border-color:#4d4d4d;color:#ddd"><div class="et">12:00</div></div>
<div class="ev" style="left:651.5px;top:745.6px;width:17.5px;height:23.4px;background:#5c5c5c;border-color:#4d4d4d;color:#ddd"><div class="et">12:30</div></div>
<div class="ev" style="left:578.0px;top:770.0px;width:16.5px;height:47.8px;background:#f96565;border-color:#f15858;color:#fff"><div class="et">1:00</div><div class="el">Functional</div><div class="el">ΤΟΛΗΣ</div><div class="el">0/6</div></div>
<div class="ev" style="left:596.0px;top:770.0px;width:17.0px;height:47.8px;background:#70a1e8;border-color:#6095e3;color:#fff"><div class="et">1:00</div><div class="el">Padel</div><div class="el">Court</div><div class="el">A</div></div>
<div class="ev" style="left:615.0px;top:770.0px;width:16.0px;height:47.8px;background:#6dd0ac;border-color:#5fc9a2;color:#fff"><div class="et">1:00</div><div class="el">Padel</div><div class="el">Court</div><div class="el">B</div></div>
<div class="ev" style="left:633.0px;top:770.0px;width:16.0px;height:23.4px;background:#a2c98f;border-color:#98c285;color:#fff"><div class="et">1:00</div></div>
<div class="ev" style="left:651.5px;top:770.0px;width:17.5px;height:23.4px;background:#5c5c5c;border-color:#4d4d4d;color:#ddd"><div class="et">1:00</div></div>
<div class="ev" style="left:633.0px;top:794.4px;width:36.0px;height:23.4px;background:#a2c98f;border-color:#98c285;color:#fff"><div class="et">1:30 - 2:00</div><div class="el">0/2</div></div>
<div class="ev" style="left:578.0px;top:818.8px;width:23.7px;height:47.8px;background:#70a1e8;border-color:#6095e3;color:#fff"><div class="et">2:00</div><div class="el">Padel</div><div class="el">Court</div><div class="el">A</div></div>
<div class="ev" style="left:601.7px;top:818.8px;width:23.6px;height:47.8px;background:#6dd0ac;border-color:#5fc9a2;color:#fff"><div class="et">2:00</div><div class="el">Padel</div><div class="el">Court</div><div class="el">B</div></div>
<div class="ev" style="left:625.3px;top:818.8px;width:21.0px;height:23.4px;background:#a2c98f;border-color:#98c285;color:#fff"><div class="et">2:00</div></div>
<div class="ev" style="left:646.3px;top:818.8px;width:22.7px;height:23.4px;background:#5c5c5c;border-color:#4d4d4d;color:#ddd"><div class="et">2:00</div></div>
<div class="ev" style="left:578.0px;top:867.6px;width:30.0px;height:47.8px;background:#e597de;border-color:#df8ed7;color:#fff"><div class="et">3:00 - 4</div><div class="el">Aerial</div><div class="el">Yoga</div><div class="el">HPO</div></div>
<div class="ev" style="left:608.0px;top:867.6px;width:31.0px;height:47.8px;background:#79c797;border-color:#6fc18e;color:#fff"><div class="et">3:00 - 4</div><div class="el">Body</div><div class="el">Pump</div><div class="el">ΛΑΜΠΗ</div></div>
<div class="ev" style="left:639.0px;top:867.6px;width:30.0px;height:47.8px;background:#6dd0ac;border-color:#5fc9a2;color:#fff"><div class="et">3:00 - 4</div><div class="el">Padel</div><div class="el">Court</div><div class="el">B</div></div>
<div class="ev" style="left:559.6px;top:916.4px;width:28.1px;height:47.8px;background:#7f80c4;border-color:#7677be;color:#fff"><div class="et">4:00 - 5</div><div class="el">Indoor</div><div class="el">Cycling</div><div class="el">ΓΙΑΝΝ</div></div>
<div class="ev" style="left:587.7px;top:916.4px;width:27.6px;height:47.8px;background:#70a1e8;border-color:#6095e3;color:#fff"><div class="et">4:00 - 5</div><div class="el">Padel</div><div class="el">Court</div><div class="el">A</div></div>
<div class="ev" style="left:615.3px;top:916.4px;width:27.7px;height:47.8px;background:#6cf1fb;border-color:#5feaf6;color:#fff"><div class="et">4:00 - 5</div><div class="el">Pilates</div><div class="el">JULIA</div><div class="el">0/16</div></div>
<div class="ev" style="left:643.0px;top:916.4px;width:26.0px;height:47.8px;background:#ffffff;border-color:#86b6d6;color:#777"><div class="et">4:00 - 5</div><div class="el">Trainer</div><div class="el">Anagn</div><div class="el">0/1</div></div>
<div class="ev" style="left:559.6px;top:965.2px;width:28.1px;height:47.8px;background:#f8c66e;border-color:#f3be62;color:#fff"><div class="et">5:00 - 6</div><div class="el">Core &amp;</div><div class="el">Legs</div><div class="el">JULIA</div></div>
<div class="ev" style="left:587.7px;top:965.2px;width:27.6px;height:47.8px;background:#70a1e8;border-color:#6095e3;color:#fff"><div class="et">5:00 - 6</div><div class="el">Padel</div><div class="el">Court</div><div class="el">A</div></div>
<div class="ev" style="left:615.3px;top:965.2px;width:27.7px;height:47.8px;background:#ffffff;border-color:#86b6d6;color:#777"><div class="et">5:00 - 6</div><div class="el">Trainer</div><div class="el">Anagn</div><div class="el">0/2</div></div>
<div class="ev" style="left:643.0px;top:965.2px;width:26.0px;height:47.8px;background:#e1d572;border-color:#d9cc67;color:#fff"><div class="et">5:00 - 6</div><div class="el">Τραμπ</div><div class="el">ΤΟΛΗ</div><div class="el">0/4</div></div>
<div class="ev" style="left:559.6px;top:1014.0px;width:28.1px;height:47.8px;background:#f96565;border-color:#f15858;color:#fff"><div class="et">6:00 - 7</div><div class="el">Functional</div></div>
<div class="ev" style="left:587.7px;top:1014.0px;width:27.6px;height:47.8px;background:#70a1e8;border-color:#6095e3;color:#fff"><div class="et">6:00 - 7</div><div class="el">Padel</div></div>
<div class="ev" style="left:615.3px;top:1014.0px;width:27.7px;height:47.8px;background:#ffffff;border-color:#86b6d6;color:#777"><div class="et">6:00 - 7</div><div class="el">Trainer</div></div>
<div class="ev" style="left:643.0px;top:1014.0px;width:26.0px;height:47.8px;background:#f6e56c;border-color:#f1de5e;color:#fff"><div class="et">6:00 - 7</div><div class="el">Yoga</div></div>
<div class="ev" style="left:674.8px;top:501.6px;width:106.9px;height:47.8px;background:#6cf9a8;border-color:#60f39e;color:#fff"><div class="et">7:30 - 8:30</div><div class="el">Functional II</div><div class="el">0/8</div></div>
<div class="ev" style="left:739.0px;top:526.0px;width:62.6px;height:47.8px;background:#6cf1fb;border-color:#5feaf6;color:#fff"><div class="et">8:00 - 9:00</div><div class="el">Pilates JULIA</div><div class="el">0/16</div></div>
<div class="ev" style="left:674.8px;top:574.8px;width:65.0px;height:47.8px;background:#e597de;border-color:#df8ed7;color:#fff"><div class="et">9:00 - 10:00</div><div class="el">Aerial Yoga HPO</div><div class="el">0/10</div></div>
<div class="ev" style="left:739.0px;top:574.8px;width:62.6px;height:47.8px;background:#6cf1fb;border-color:#5feaf6;color:#fff"><div class="et">9:00 - 10:00</div><div class="el">Pilates</div><div class="el">Αναγνωστάκης</div><div class="el">Άγγελος</div></div>
<div class="ev" style="left:674.8px;top:623.6px;width:26.2px;height:291.8px;background:#e8aa70;border-color:#e4a264;color:#fff"><div class="et">10:00 - </div><div class="el">Padel</div><div class="el">Court</div><div class="el">C</div><div class="el">0</div></div>
<div class="ev" style="left:701.0px;top:623.6px;width:25.0px;height:47.8px;background:#79c797;border-color:#6fc18e;color:#fff"><div class="et">10:00</div><div class="el">Body</div><div class="el">Pump</div><div class="el">ΛΑΜΠ</div></div>
<div class="ev" style="left:726.0px;top:623.6px;width:25.0px;height:47.8px;background:#70a1e8;border-color:#6095e3;color:#fff"><div class="et">10:00</div><div class="el">Padel</div><div class="el">Court</div><div class="el">A</div></div>
<div class="ev" style="left:751.0px;top:623.6px;width:26.0px;height:47.8px;background:#6dd0ac;border-color:#5fc9a2;color:#fff"><div class="et">10:00</div><div class="el">Padel</div><div class="el">Court</div><div class="el">B</div></div>
<div class="ev" style="left:777.0px;top:623.6px;width:24.6px;height:47.8px;background:#f6e56c;border-color:#f1de5e;color:#fff"><div class="et">10:00</div><div class="el">Yoga</div><div class="el">ΖΩΗ</div><div class="el">0/10</div></div>
<div class="ev" style="left:701.5px;top:672.4px;width:33.1px;height:47.8px;background:#70a1e8;border-color:#6095e3;color:#fff"><div class="et">11:00 - 12</div><div class="el">Padel</div><div class="el">Court A</div><div class="el">0/1</div></div>
<div class="ev" style="left:734.6px;top:672.4px;width:33.4px;height:47.8px;background:#6dd0ac;border-color:#5fc9a2;color:#fff"><div class="et">11:00 - 12</div><div class="el">Padel</div><div class="el">Court B</div><div class="el">0/1</div></div>
<div class="ev" style="left:768.0px;top:672.4px;width:33.6px;height:47.8px;background:#6cf1fb;border-color:#5feaf6;color:#fff"><div class="et">11:00 - 12</div><div class="el">Pilates</div><div class="el">0/12</div></div>
<div class="ev" style="left:701.5px;top:721.2px;width:32.8px;height:47.8px;background:#8db5f8;border-color:#81acf4;color:#fff"><div class="et">12:00 - 1</div><div class="el">Kangoo</div><div class="el">jumps</div><div class="el">0/8</div></div>
<div class="ev" style="left:734.3px;top:721.2px;width:34.2px;height:47.8px;background:#70a1e8;border-color:#6095e3;color:#fff"><div class="et">12:00 - 1</div><div class="el">Padel</div><div class="el">Court A</div><div class="el">0/1</div></div>
<div class="ev" style="left:768.5px;top:721.2px;width:32.8px;height:47.8px;background:#6dd0ac;border-color:#5fc9a2;color:#fff"><div class="et">12:00 - 1</div><div class="el">Padel</div><div class="el">Court</div><div class="el">B</div></div>
<div class="ev" style="left:701.5px;top:770.0px;width:32.8px;height:47.8px;background:#70a1e8;border-color:#6095e3;color:#fff"><div class="et">1:00 - 2:0</div><div class="el">Padel</div><div class="el">Court A</div><div class="el">0/1</div></div>
<div class="ev" style="left:734.3px;top:770.0px;width:34.2px;height:47.8px;background:#6dd0ac;border-color:#5fc9a2;color:#fff"><div class="et">1:00 - 2:0</div><div class="el">Padel</div><div class="el">Court B</div><div class="el">0/1</div></div>
<div class="ev" style="left:768.5px;top:770.0px;width:32.8px;height:47.8px;background:#e1d572;border-color:#d9cc67;color:#fff"><div class="et">1:00 - 2:0</div><div class="el">Τραμπολ</div><div class="el">ΤΟΛΗΣ</div><div class="el">0/4</div></div>
<div class="ev" style="left:701.5px;top:818.8px;width:49.9px;height:47.8px;background:#70a1e8;border-color:#6095e3;color:#fff"><div class="et">2:00 - 3:00</div><div class="el">Padel Court</div><div class="el">0/1</div></div>
<div class="ev" style="left:751.4px;top:818.8px;width:49.9px;height:47.8px;background:#6dd0ac;border-color:#5fc9a2;color:#fff"><div class="et">2:00 - 3:00</div><div class="el">Padel</div><div class="el">Court B</div><div class="el">0/1</div></div>
<div class="ev" style="left:701.5px;top:867.6px;width:24.9px;height:47.8px;background:#70a1e8;border-color:#6095e3;color:#fff"><div class="et">3:00 - 4</div><div class="el">Padel</div><div class="el">Court</div><div class="el">A</div></div>
<div class="ev" style="left:726.4px;top:867.6px;width:25.0px;height:47.8px;background:#6dd0ac;border-color:#5fc9a2;color:#fff"><div class="et">3:00 - 4</div><div class="el">Padel</div><div class="el">Court</div><div class="el">B</div></div>
<div class="ev" style="left:751.4px;top:867.6px;width:30.2px;height:47.8px;background:#b9c593;border-color:#b1bd89;color:#fff"><div class="et">3:00 - 4</div><div class="el">TRX</div><div class="el">ΤΟΛΗΣ</div><div class="el">0/10</div></div>
<div class="ev" style="left:675.2px;top:916.4px;width:51.2px;height:47.8px;background:#7f80c4;border-color:#7677be;color:#fff"><div class="et">4:00 - 5:00</div><div class="el">Indoor Cycling</div><div class="el">ΓΙΑΝΝΗΣ Δ</div><div class="el">0/14</div></div>
<div class="ev" style="left:726.4px;top:916.4px;width:55.2px;height:47.8px;background:#6cf1fb;border-color:#5feaf6;color:#fff"><div class="et">4:00 - 5:00</div><div class="el">Pilates ΖΩΗ</div><div class="el">0/16</div></div>
<div class="ev" style="left:777.0px;top:892.0px;width:25.0px;height:47.8px;background:#6cf1fb;border-color:#5feaf6;color:#fff"><div class="et">3:30 -</div><div class="el">Pilates</div><div class="el">0/10</div></div>
<div class="ev" style="left:675.2px;top:965.2px;width:64.4px;height:47.8px;background:#79c797;border-color:#6fc18e;color:#fff"><div class="et">5:00 - 6:00</div><div class="el">Body Pump ΛΑΜ</div><div class="el">0/10</div></div>
<div class="ev" style="left:739.6px;top:965.2px;width:61.7px;height:47.8px;background:#f8c66e;border-color:#f3be62;color:#fff"><div class="et">5:00 - 6:00</div><div class="el">Core &amp; Legs</div><div class="el">JULIA</div><div class="el">0/8</div></div>
<div class="ev" style="left:675.2px;top:1014.0px;width:64.4px;height:47.8px;background:#f96565;border-color:#f15858;color:#fff"><div class="et">6:00 - 7:00</div><div class="el">Functional ΤΟΛ</div></div>
<div class="ev" style="left:739.6px;top:1014.0px;width:61.7px;height:47.8px;background:#f6e56c;border-color:#f1de5e;color:#fff"><div class="et">6:00 - 7:00</div><div class="el">Yoga ΖΩΗ</div></div>
<div class="ev" style="left:808.3px;top:526.0px;width:43.1px;height:47.8px;background:#6cf9a8;border-color:#60f39e;color:#fff"><div class="et">8:00 - 9:00</div><div class="el">Functional</div><div class="el">0/8</div></div>
<div class="ev" style="left:851.4px;top:526.0px;width:42.3px;height:47.8px;background:#6cf1fb;border-color:#5feaf6;color:#fff"><div class="et">8:00 - 9:00</div><div class="el">Pilates JU</div><div class="el">0/16</div></div>
<div class="ev" style="left:893.7px;top:526.0px;width:41.3px;height:47.8px;background:#88f76c;border-color:#7df060;color:#fff"><div class="et">8:00 - 9:00</div><div class="el">TAE BO</div><div class="el">ΜΑΝΟΣ</div><div class="el">0/5</div></div>
<div class="ev" style="left:808.3px;top:574.8px;width:126.7px;height:47.8px;background:#6cf1fb;border-color:#5feaf6;color:#fff"><div class="et">9:00 - 10:00</div><div class="el">Pilates</div><div class="el">0/10</div></div>
<div class="ev" style="left:808.3px;top:623.6px;width:21.7px;height:291.8px;background:#e8aa70;border-color:#e4a264;color:#fff"><div class="et">10:00</div><div class="el">Padel</div><div class="el">Court</div><div class="el">C</div><div class="el">0</div></div>
<div class="ev" style="left:830.0px;top:623.6px;width:21.0px;height:47.8px;background:#79c797;border-color:#6fc18e;color:#fff"><div class="et">10:00</div><div class="el">Body</div><div class="el">Pump</div><div class="el">ΛΑΜ</div></div>
<div class="ev" style="left:851.0px;top:623.6px;width:21.0px;height:47.8px;background:#70a1e8;border-color:#6095e3;color:#fff"><div class="et">10:00</div><div class="el">Padel</div><div class="el">Court</div><div class="el">A</div></div>
<div class="ev" style="left:872.0px;top:623.6px;width:21.0px;height:47.8px;background:#6dd0ac;border-color:#5fc9a2;color:#fff"><div class="et">10:00</div><div class="el">Padel</div><div class="el">Court</div><div class="el">B</div></div>
<div class="ev" style="left:893.0px;top:623.6px;width:21.0px;height:47.8px;background:#f96565;border-color:#f15858;color:#fff"><div class="et">10:00</div><div class="el">Personal</div><div class="el">0/1</div></div>
<div class="ev" style="left:914.0px;top:623.6px;width:21.0px;height:47.8px;background:#f6e56c;border-color:#f1de5e;color:#fff"><div class="et">10:00</div><div class="el">Yoga</div><div class="el">ΖΩΗ</div><div class="el">0/10</div></div>
<div class="ev" style="left:830.0px;top:672.4px;width:26.8px;height:47.8px;background:#7f80c4;border-color:#7677be;color:#fff"><div class="et">11:00 -</div><div class="el">Indoor</div><div class="el">Cycling</div><div class="el">ΓΙΑΝΝ</div></div>
<div class="ev" style="left:856.8px;top:672.4px;width:25.6px;height:47.8px;background:#70a1e8;border-color:#6095e3;color:#fff"><div class="et">11:00 -</div><div class="el">Padel</div><div class="el">Court</div><div class="el">A</div></div>
<div class="ev" style="left:882.4px;top:672.4px;width:26.6px;height:47.8px;background:#6dd0ac;border-color:#5fc9a2;color:#fff"><div class="et">11:00 -</div><div class="el">Padel</div><div class="el">Court</div><div class="el">B</div></div>
<div class="ev" style="left:909.0px;top:672.4px;width:26.0px;height:47.8px;background:#f96565;border-color:#f15858;color:#fff"><div class="et">11:00 -</div><div class="el">Personal</div><div class="el">0/1</div></div>
<div class="ev" style="left:830.0px;top:721.2px;width:35.0px;height:47.8px;background:#8db5f8;border-color:#81acf4;color:#fff"><div class="et">12:00 - 1</div><div class="el">Kangoo</div><div class="el">jumps</div><div class="el">0/8</div></div>
<div class="ev" style="left:865.0px;top:721.2px;width:35.5px;height:47.8px;background:#70a1e8;border-color:#6095e3;color:#fff"><div class="et">12:00 - 1</div><div class="el">Padel</div><div class="el">Court A</div><div class="el">0/1</div></div>
<div class="ev" style="left:900.5px;top:721.2px;width:34.1px;height:47.8px;background:#6dd0ac;border-color:#5fc9a2;color:#fff"><div class="et">12:00 - 1</div><div class="el">Padel</div><div class="el">Court B</div><div class="el">0/1</div></div>
<div class="ev" style="left:830.0px;top:770.0px;width:35.0px;height:47.8px;background:#f96565;border-color:#f15858;color:#fff"><div class="et">1:00 - 2:0</div><div class="el">Functional</div><div class="el">ΤΟΛΗΣ</div><div class="el">0/6</div></div>
<div class="ev" style="left:865.0px;top:770.0px;width:35.5px;height:47.8px;background:#70a1e8;border-color:#6095e3;color:#fff"><div class="et">1:00 - 2:0</div><div class="el">Padel</div><div class="el">Court A</div><div class="el">0/1</div></div>
<div class="ev" style="left:900.5px;top:770.0px;width:34.1px;height:47.8px;background:#6dd0ac;border-color:#5fc9a2;color:#fff"><div class="et">1:00 - 2:0</div><div class="el">Padel</div><div class="el">Court B</div><div class="el">0/1</div></div>
<div class="ev" style="left:830.0px;top:818.8px;width:35.0px;height:47.8px;background:#6cf9a8;border-color:#60f39e;color:#fff"><div class="et">2:00 - 3:0</div><div class="el">Functional</div><div class="el">II</div><div class="el">0/5</div></div>
<div class="ev" style="left:865.0px;top:818.8px;width:35.5px;height:47.8px;background:#70a1e8;border-color:#6095e3;color:#fff"><div class="et">2:00 - 3:0</div><div class="el">Padel</div><div class="el">Court A</div><div class="el">0/1</div></div>
<div class="ev" style="left:900.5px;top:818.8px;width:34.1px;height:47.8px;background:#6dd0ac;border-color:#5fc9a2;color:#fff"><div class="et">2:00 - 3:0</div><div class="el">Padel</div><div class="el">Court B</div><div class="el">0/1</div></div>
<div class="ev" style="left:830.0px;top:867.6px;width:26.4px;height:47.8px;background:#e597de;border-color:#df8ed7;color:#fff"><div class="et">3:00 - 4</div><div class="el">Aerial</div><div class="el">Yoga</div><div class="el">HPO</div></div>
<div class="ev" style="left:856.4px;top:867.6px;width:25.6px;height:47.8px;background:#70a1e8;border-color:#6095e3;color:#fff"><div class="et">3:00 - 4</div><div class="el">Padel</div><div class="el">Court</div><div class="el">A</div></div>
<div class="ev" style="left:882.0px;top:867.6px;width:27.0px;height:47.8px;background:#6dd0ac;border-color:#5fc9a2;color:#fff"><div class="et">3:00 - 4</div><div class="el">Padel</div><div class="el">Court</div><div class="el">B</div></div>
<div class="ev" style="left:909.0px;top:867.6px;width:25.6px;height:47.8px;background:#b9c593;border-color:#b1bd89;color:#fff"><div class="et">3:00 - 4</div><div class="el">TRX</div><div class="el">ΤΟΛΗ</div><div class="el">0/10</div></div>
<div class="ev" style="left:808.6px;top:916.4px;width:42.8px;height:47.8px;background:#ffffff;border-color:#86b6d6;color:#777"><div class="et">4:00 - 5:00</div><div class="el">Group</div><div class="el">Προπόνηση</div><div class="el">0/0</div></div>
<div class="ev" style="left:851.4px;top:916.4px;width:42.6px;height:47.8px;background:#7f80c4;border-color:#7677be;color:#fff"><div class="et">4:00 - 5:00</div><div class="el">Indoor Cycling</div><div class="el">ΓΙΑΝΝΗΣ Δ</div><div class="el">0/14</div></div>
<div class="ev" style="left:894.0px;top:916.4px;width:40.6px;height:47.8px;background:#6cf1fb;border-color:#5feaf6;color:#fff"><div class="et">4:00 - 5:00</div><div class="el">Pilates</div><div class="el">ΖΩΗ</div><div class="el">0/16</div></div>
<div class="ev" style="left:808.6px;top:965.2px;width:63.8px;height:47.8px;background:#f8c66e;border-color:#f3be62;color:#fff"><div class="et">5:00 - 6:00</div><div class="el">Core &amp; Legs JU</div><div class="el">0/8</div></div>
<div class="ev" style="left:872.4px;top:965.2px;width:62.2px;height:47.8px;background:#e1d572;border-color:#d9cc67;color:#fff"><div class="et">5:00 - 6:00</div><div class="el">Τραμπολίνο</div><div class="el">ΤΟΛΗΣ</div><div class="el">0/4</div></div>
<div class="ev" style="left:808.6px;top:1014.0px;width:63.8px;height:47.8px;background:#f96565;border-color:#f15858;color:#fff"><div class="et">6:00 - 7:00</div><div class="el">Functional ΤΟΛ</div></div>
<div class="ev" style="left:872.4px;top:1014.0px;width:62.2px;height:47.8px;background:#f6e56c;border-color:#f1de5e;color:#fff"><div class="et">6:00 - 7:00</div><div class="el">Yoga ΖΩΗ</div></div>
<div class="ev" style="left:942.4px;top:477.2px;width:126.8px;height:47.8px;background:#6cf9a8;border-color:#60f39e;color:#fff"><div class="et">7:00 - 8:00</div><div class="el">Functional II</div><div class="el">0/8</div></div>
<div class="ev" style="left:942.4px;top:526.0px;width:126.8px;height:47.8px;background:#6cf1fb;border-color:#5feaf6;color:#fff"><div class="et">8:00 - 9:00</div><div class="el">Pilates JULIA</div><div class="el">0/16</div></div>
<div class="ev" style="left:942.4px;top:574.8px;width:126.8px;height:47.8px;background:#e597de;border-color:#df8ed7;color:#fff"><div class="et">9:00 - 10:00</div><div class="el">Aerial Yoga HPO</div><div class="el">0/10</div></div>
<div class="ev" style="left:942.4px;top:623.6px;width:24.9px;height:291.8px;background:#e8aa70;border-color:#e4a264;color:#fff"><div class="et">10:00 -</div><div class="el">Padel</div><div class="el">Court</div><div class="el">C</div><div class="el">0</div></div>
<div class="ev" style="left:967.3px;top:623.6px;width:34.0px;height:47.8px;background:#70a1e8;border-color:#6095e3;color:#fff"><div class="et">10:00 - 11</div><div class="el">Padel</div><div class="el">Court A</div><div class="el">0/1</div></div>
<div class="ev" style="left:1001.3px;top:623.6px;width:33.9px;height:47.8px;background:#6dd0ac;border-color:#5fc9a2;color:#fff"><div class="et">10:00 - 11</div><div class="el">Padel</div><div class="el">Court B</div><div class="el">0/1</div></div>
<div class="ev" style="left:1035.2px;top:623.6px;width:34.0px;height:47.8px;background:#f6e56c;border-color:#f1de5e;color:#fff"><div class="et">10:00 - 11</div><div class="el">Yoga</div><div class="el">ΖΩΗ</div><div class="el">0/10</div></div>
<div class="ev" style="left:967.3px;top:672.4px;width:34.0px;height:47.8px;background:#70a1e8;border-color:#6095e3;color:#fff"><div class="et">11:00 - 12</div><div class="el">Padel</div><div class="el">Court A</div><div class="el">0/1</div></div>
<div class="ev" style="left:1001.3px;top:672.4px;width:33.9px;height:47.8px;background:#6dd0ac;border-color:#5fc9a2;color:#fff"><div class="et">11:00 - 12</div><div class="el">Padel</div><div class="el">Court B</div><div class="el">0/1</div></div>
<div class="ev" style="left:1035.2px;top:672.4px;width:34.0px;height:47.8px;background:#f96565;border-color:#f15858;color:#fff"><div class="et">11:00 - 12</div><div class="el">Personal</div><div class="el">0/1</div></div>
<div class="ev" style="left:967.5px;top:721.2px;width:33.3px;height:47.8px;background:#8db5f8;border-color:#81acf4;color:#fff"><div class="et">12:00 - 1</div><div class="el">Kangoo</div><div class="el">jumps</div><div class="el">0/8</div></div>
<div class="ev" style="left:1000.8px;top:721.2px;width:34.2px;height:47.8px;background:#70a1e8;border-color:#6095e3;color:#fff"><div class="et">12:00 - 1</div><div class="el">Padel</div><div class="el">Court A</div><div class="el">0/1</div></div>
<div class="ev" style="left:1035.0px;top:721.2px;width:33.6px;height:47.8px;background:#6dd0ac;border-color:#5fc9a2;color:#fff"><div class="et">12:00 - 1</div><div class="el">Padel</div><div class="el">Court</div><div class="el">B</div></div>
<div class="ev" style="left:967.5px;top:770.0px;width:24.9px;height:47.8px;background:#e597de;border-color:#df8ed7;color:#fff"><div class="et">1:00 - 2</div><div class="el">Aerial</div><div class="el">Yoga</div><div class="el">0/10</div></div>
<div class="ev" style="left:992.4px;top:770.0px;width:26.3px;height:47.8px;background:#70a1e8;border-color:#6095e3;color:#fff"><div class="et">1:00 - 2</div><div class="el">Padel</div><div class="el">Court</div><div class="el">A</div></div>
<div class="ev" style="left:1018.7px;top:770.0px;width:25.0px;height:47.8px;background:#6dd0ac;border-color:#5fc9a2;color:#fff"><div class="et">1:00 - 2</div><div class="el">Padel</div><div class="el">Court</div><div class="el">B</div></div>
<div class="ev" style="left:1043.7px;top:770.0px;width:24.9px;height:47.8px;background:#e1d572;border-color:#d9cc67;color:#fff"><div class="et">1:00 - 2</div><div class="el">Τραμπ</div><div class="el">ΤΟΛΗ</div><div class="el">0/4</div></div>
<div class="ev" style="left:967.5px;top:818.8px;width:51.2px;height:47.8px;background:#70a1e8;border-color:#6095e3;color:#fff"><div class="et">2:00 - 3:00</div><div class="el">Padel Court</div><div class="el">0/1</div></div>
<div class="ev" style="left:1018.7px;top:818.8px;width:49.9px;height:47.8px;background:#6dd0ac;border-color:#5fc9a2;color:#fff"><div class="et">2:00 - 3:00</div><div class="el">Padel</div><div class="el">Court B</div><div class="el">0/1</div></div>
<div class="ev" style="left:967.5px;top:867.6px;width:24.9px;height:47.8px;background:#70a1e8;border-color:#6095e3;color:#fff"><div class="et">3:00 - 4</div><div class="el">Padel</div><div class="el">Court</div><div class="el">A</div></div>
<div class="ev" style="left:992.4px;top:867.6px;width:26.3px;height:47.8px;background:#6dd0ac;border-color:#5fc9a2;color:#fff"><div class="et">3:00 - 4</div><div class="el">Padel</div><div class="el">Court</div><div class="el">B</div></div>
<div class="ev" style="left:1018.7px;top:867.6px;width:29.7px;height:47.8px;background:#b9c593;border-color:#b1bd89;color:#fff"><div class="et">3:00 - 4</div><div class="el">TRX</div><div class="el">ΤΟΛΗΣ</div><div class="el">0/10</div></div>
<div class="ev" style="left:942.5px;top:916.4px;width:32.9px;height:47.8px;background:#6cf9a8;border-color:#60f39e;color:#fff"><div class="et">4:00 - 5:0</div><div class="el">Functional</div><div class="el">II</div><div class="el">0/2</div></div>
<div class="ev" style="left:975.4px;top:916.4px;width:34.1px;height:47.8px;background:#7f80c4;border-color:#7677be;color:#fff"><div class="et">4:00 - 5:0</div><div class="el">Indoor</div><div class="el">Cycling</div><div class="el">ΚΩΣΤΑΣ</div></div>
<div class="ev" style="left:1009.5px;top:916.4px;width:39.5px;height:47.8px;background:#6cf1fb;border-color:#5feaf6;color:#fff"><div class="et">4:00 - 5:0</div><div class="el">Pilates</div><div class="el">ΖΩΗ</div><div class="el">0/16</div></div>
<div class="ev" style="left:1043.0px;top:892.0px;width:25.6px;height:47.8px;background:#6cf1fb;border-color:#5feaf6;color:#fff"><div class="et">3:30 -</div><div class="el">Pilates</div><div class="el">0/10</div></div>
<div class="ev" style="left:942.5px;top:965.2px;width:41.5px;height:47.8px;background:#79c797;border-color:#6fc18e;color:#fff"><div class="et">5:00 - 6:00</div><div class="el">Body Pump</div><div class="el">ΛΑΜΠΗΣ</div><div class="el">0/10</div></div>
<div class="ev" style="left:984.0px;top:965.2px;width:42.6px;height:47.8px;background:#f8c66e;border-color:#f3be62;color:#fff"><div class="et">5:00 - 6:00</div><div class="el">Core &amp; Legs</div><div class="el">JULIA</div><div class="el">0/8</div></div>
<div class="ev" style="left:1026.6px;top:965.2px;width:42.0px;height:47.8px;background:#ffffff;border-color:#86b6d6;color:#777"><div class="et">5:00 - 6:00</div><div class="el">Group</div><div class="el">Προπόνηση</div><div class="el">0/0</div></div>
<div class="ev" style="left:942.5px;top:1014.0px;width:63.1px;height:47.8px;background:#f96565;border-color:#f15858;color:#fff"><div class="et">6:00 - 7:00</div><div class="el">Functional ΤΟΛ</div></div>
<div class="ev" style="left:1005.6px;top:1014.0px;width:63.0px;height:47.8px;background:#f6e56c;border-color:#f1de5e;color:#fff"><div class="et">6:00 - 7:00</div><div class="el">Yoga ΖΩΗ</div></div>
<div class="ev" style="left:1075.2px;top:526.0px;width:63.0px;height:47.8px;background:#6cf1fb;border-color:#5feaf6;color:#fff"><div class="et">8:00 - 9:00</div><div class="el">Pilates JULIA</div><div class="el">0/16</div></div>
<div class="ev" style="left:1138.2px;top:526.0px;width:63.8px;height:47.8px;background:#88f76c;border-color:#7df060;color:#fff"><div class="et">8:00 - 9:00</div><div class="el">TAE BO</div><div class="el">ΜΑΝΟΣ</div><div class="el">0/2</div></div>
<div class="ev" style="left:1075.0px;top:574.8px;width:15.5px;height:511.4px;background:#ffffff;border-color:#86b6d6;color:#777"><div class="et">9:00</div><div class="el">Sau</div><div class="el">0</div></div>
<div class="ev" style="left:1093.0px;top:623.6px;width:15.8px;height:291.8px;background:#e8aa70;border-color:#e4a264;color:#fff"><div class="et">10:00</div><div class="el">Padel</div><div class="el">Court</div><div class="el">C</div><div class="el">0</div></div>
<div class="ev" style="left:1111.5px;top:623.6px;width:30.1px;height:47.8px;background:#70a1e8;border-color:#6095e3;color:#fff"><div class="et">10:00 - 1</div><div class="el">Padel</div><div class="el">Court A</div><div class="el">0/0</div></div>
<div class="ev" style="left:1141.6px;top:623.6px;width:30.4px;height:47.8px;background:#6dd0ac;border-color:#5fc9a2;color:#fff"><div class="et">10:00 - 1</div><div class="el">Padel</div><div class="el">Court B</div><div class="el">0/1</div></div>
<div class="ev" style="left:1172.0px;top:623.6px;width:30.0px;height:47.8px;background:#f6e56c;border-color:#f1de5e;color:#fff"><div class="et">10:00 - 1</div><div class="el">Yoga</div><div class="el">ΖΩΗ</div><div class="el">0/10</div></div>
<div class="ev" style="left:1111.5px;top:672.4px;width:30.1px;height:47.8px;background:#7f80c4;border-color:#7677be;color:#fff"><div class="et">11:00 - 1</div><div class="el">Indoor</div><div class="el">Cycling</div><div class="el">ΚΩΣΤΑ</div></div>
<div class="ev" style="left:1141.6px;top:672.4px;width:30.4px;height:47.8px;background:#70a1e8;border-color:#6095e3;color:#fff"><div class="et">11:00 - 1</div><div class="el">Padel</div><div class="el">Court A</div><div class="el">0/0</div></div>
<div class="ev" style="left:1172.0px;top:672.4px;width:30.0px;height:47.8px;background:#6dd0ac;border-color:#5fc9a2;color:#fff"><div class="et">11:00 - 1</div><div class="el">Padel</div><div class="el">Court</div><div class="el">B</div></div>
<div class="ev" style="left:1111.3px;top:721.2px;width:15.7px;height:47.8px;background:#6cf9a8;border-color:#60f39e;color:#fff"><div class="et">12:0</div><div class="el">Fun</div><div class="el">II</div><div class="el">0/5</div></div>
<div class="ev" style="left:1129.0px;top:721.2px;width:15.7px;height:47.8px;background:#8db5f8;border-color:#81acf4;color:#fff"><div class="et">12:0</div><div class="el">Kan</div><div class="el">jum</div><div class="el">0/8</div></div>
<div class="ev" style="left:1147.3px;top:721.2px;width:15.7px;height:47.8px;background:#70a1e8;border-color:#6095e3;color:#fff"><div class="et">12:0</div><div class="el">Pad</div><div class="el">Cou</div><div class="el">A</div></div>
<div class="ev" style="left:1165.0px;top:721.2px;width:16.0px;height:47.8px;background:#6dd0ac;border-color:#5fc9a2;color:#fff"><div class="et">12:0</div><div class="el">Pad</div><div class="el">Cou</div><div class="el">B</div></div>
<div class="ev" style="left:1183.6px;top:721.2px;width:18.4px;height:23.4px;background:#5c5c5c;border-color:#4d4d4d;color:#ddd"><div class="et">12:0</div></div>
<div class="ev" style="left:1111.3px;top:770.0px;width:30.2px;height:47.8px;background:#f96565;border-color:#f15858;color:#fff"><div class="et">1:00 - 2</div><div class="el">Functio</div><div class="el">ΤΟΛΗΣ</div><div class="el">0/6</div></div>
<div class="ev" style="left:1141.5px;top:770.0px;width:31.0px;height:47.8px;background:#70a1e8;border-color:#6095e3;color:#fff"><div class="et">1:00 - 2</div><div class="el">Padel</div><div class="el">Court A</div><div class="el">0/0</div></div>
<div class="ev" style="left:1172.5px;top:770.0px;width:29.5px;height:47.8px;background:#6dd0ac;border-color:#5fc9a2;color:#fff"><div class="et">1:00 - 2</div><div class="el">Padel</div><div class="el">Court</div><div class="el">B</div></div>
<div class="ev" style="left:1111.3px;top:818.8px;width:45.5px;height:47.8px;background:#70a1e8;border-color:#6095e3;color:#fff"><div class="et">2:00 - 3:00</div><div class="el">Padel Cou</div><div class="el">0/0</div></div>
<div class="ev" style="left:1156.8px;top:818.8px;width:45.2px;height:47.8px;background:#6dd0ac;border-color:#5fc9a2;color:#fff"><div class="et">2:00 - 3:00</div><div class="el">Padel</div><div class="el">Court B</div><div class="el">0/1</div></div>
<div class="ev" style="left:1111.3px;top:867.6px;width:15.7px;height:47.8px;background:#79c797;border-color:#6fc18e;color:#fff"><div class="et">3:0</div><div class="el">Bo</div><div class="el">Pu</div><div class="el">ΛΑ</div></div>
<div class="ev" style="left:1129.0px;top:867.6px;width:15.7px;height:47.8px;background:#6cf9a8;border-color:#60f39e;color:#fff"><div class="et">3:0</div><div class="el">Fu</div><div class="el">II</div><div class="el">0/6</div></div>
<div class="ev" style="left:1147.3px;top:867.6px;width:15.7px;height:47.8px;background:#70a1e8;border-color:#6095e3;color:#fff"><div class="et">3:0</div><div class="el">Pad</div><div class="el">Cou</div><div class="el">A</div></div>
<div class="ev" style="left:1165.0px;top:867.6px;width:16.0px;height:47.8px;background:#6dd0ac;border-color:#5fc9a2;color:#fff"><div class="et">3:0</div><div class="el">Pad</div><div class="el">Cou</div><div class="el">B</div></div>
<div class="ev" style="left:1184.0px;top:867.6px;width:18.0px;height:47.8px;background:#b9c593;border-color:#b1bd89;color:#fff"><div class="et">3:00</div><div class="el">TRX</div><div class="el">ΤΟΛ</div><div class="el">0/10</div></div>
<div class="ev" style="left:1093.0px;top:916.4px;width:54.3px;height:47.8px;background:#7f80c4;border-color:#7677be;color:#fff"><div class="et">4:00 - 5:00</div><div class="el">Indoor Cycling</div><div class="el">ΚΩΣΤΑΣ</div><div class="el">0/14</div></div>
<div class="ev" style="left:1147.3px;top:916.4px;width:54.7px;height:47.8px;background:#6cf1fb;border-color:#5feaf6;color:#fff"><div class="et">4:00 - 5:00</div><div class="el">Pilates ΖΩΗ</div><div class="el">0/16</div></div>
<div class="ev" style="left:1093.0px;top:965.2px;width:54.3px;height:47.8px;background:#f8c66e;border-color:#f3be62;color:#fff"><div class="et">5:00 - 6:00</div><div class="el">Core &amp; Legs</div><div class="el">0/8</div></div>
<div class="ev" style="left:1147.3px;top:965.2px;width:54.7px;height:47.8px;background:#e1d572;border-color:#d9cc67;color:#fff"><div class="et">5:00 - 6:00</div><div class="el">Τραμπολίνο</div><div class="el">ΤΟΛΗΣ</div><div class="el">0/4</div></div>
<div class="ev" style="left:1093.0px;top:1014.0px;width:54.3px;height:47.8px;background:#f96565;border-color:#f15858;color:#fff"><div class="et">6:00 - 7:00</div><div class="el">Functional ΤΟ</div></div>
<div class="ev" style="left:1147.3px;top:1014.0px;width:54.7px;height:47.8px;background:#f6e56c;border-color:#f1de5e;color:#fff"><div class="et">6:00 - 7:00</div><div class="el">Yoga ΖΩΗ</div></div>
<div class="ev" style="left:1208.0px;top:526.0px;width:126.8px;height:47.8px;background:#88f76c;border-color:#7df060;color:#fff"><div class="et">8:00 - 9:00</div><div class="el">TAE BO ΜΑΝΟΣ</div><div class="el">0/5</div></div>
<div class="ev" style="left:1208.4px;top:623.6px;width:64.0px;height:340.6px;background:#ffffff;border-color:#86b6d6;color:#777"><div class="et">10:00 - 5:00</div><div class="el">OPEN GYM</div><div class="el">0</div></div>
<div class="ev" style="left:1250.3px;top:623.6px;width:84.5px;height:47.8px;background:#f6e56c;border-color:#f1de5e;color:#fff"><div class="et">10:00 - 11:00</div><div class="el">Yoga ΖΩΗ</div><div class="el">0/10</div></div>
<div class="ev" style="left:1250.3px;top:672.4px;width:43.0px;height:47.8px;background:#7f80c4;border-color:#7677be;color:#fff"><div class="et">11:00 - 12:00</div><div class="el">Indoor Cy</div><div class="el">ΚΩΣΤΑΣ</div><div class="el">0/14</div></div>
<div class="ev" style="left:1293.3px;top:672.4px;width:41.5px;height:47.8px;background:#f96565;border-color:#f15858;color:#fff"><div class="et">11:00 - 12:0</div><div class="el">Personal</div><div class="el">0/1</div></div>
<div class="ev" style="left:1250.0px;top:721.2px;width:84.6px;height:47.8px;background:#8db5f8;border-color:#81acf4;color:#fff"><div class="et">12:00 - 1:00</div><div class="el">Kangoo jumps</div><div class="el">1/8</div></div>
<div class="ev" style="left:1250.0px;top:770.0px;width:84.6px;height:47.8px;background:#f96565;border-color:#f15858;color:#fff"><div class="et">1:00 - 2:00</div><div class="el">Functional ΤΟΛΗΣ</div><div class="el">0/6</div></div>
<div class="ev" style="left:1250.0px;top:916.4px;width:84.6px;height:47.8px;background:#e597de;border-color:#df8ed7;color:#fff"><div class="et">4:00 - 5:00</div><div class="el">Aerial Yoga HPO</div><div class="el">0/6</div></div>
<div class="ev" style="left:1208.5px;top:965.2px;width:63.1px;height:47.8px;background:#f8c66e;border-color:#f3be62;color:#fff"><div class="et">5:00 - 6:00</div><div class="el">Core &amp; Legs JU</div><div class="el">0/8</div></div>
<div class="ev" style="left:1271.6px;top:965.2px;width:63.0px;height:47.8px;background:#e1d572;border-color:#d9cc67;color:#fff"><div class="et">5:00 - 6:00</div><div class="el">Τραμπολίνο</div><div class="el">ΤΟΛΗΣ</div><div class="el">0/5</div></div>
<div class="ev" style="left:1208.5px;top:1014.0px;width:126.1px;height:47.8px;background:#f6e56c;border-color:#f1de5e;color:#fff"><div class="et">6:00 - 7:00</div><div class="el">Yoga ΖΩΗ</div></div>
<div class="ev" style="left:1341.3px;top:477.2px;width:107.7px;height:96.6px;background:#6cf9a8;border-color:#60f39e;color:#fff"><div class="et">7:00 - 9:00</div><div class="el">Functional II Spotable</div><div class="el">Trainer</div><div class="el">0/99</div></div>
<div class="ev" style="left:1405.2px;top:526.0px;width:64.0px;height:47.8px;background:#88f76c;border-color:#7df060;color:#fff"><div class="et">8:00 - 9:00</div><div class="el">TAE BO</div><div class="el">ΜΑΝΟΣ</div><div class="el">0/1</div></div>
<div class="ev" style="left:1341.3px;top:623.6px;width:43.2px;height:340.6px;background:#ffffff;border-color:#86b6d6;color:#777"><div class="et">10:00 - 5</div><div class="el">OPEN</div><div class="el">GYM</div><div class="el">0</div></div>
<div class="ev" style="left:1373.0px;top:623.6px;width:96.2px;height:47.8px;background:#f6e56c;border-color:#f1de5e;color:#fff"><div class="et">10:00 - 11:00</div><div class="el">Yoga ΖΩΗ</div><div class="el">0/10</div></div>
<div class="ev" style="left:1373.0px;top:672.4px;width:32.2px;height:47.8px;background:#6cf9a8;border-color:#60f39e;color:#fff"><div class="et">11:00 - 12</div><div class="el">Functional</div><div class="el">II Mapp</div><div class="el">Giorgos</div></div>
<div class="ev" style="left:1405.2px;top:672.4px;width:32.6px;height:47.8px;background:#7f80c4;border-color:#7677be;color:#fff"><div class="et">11:00 - 12</div><div class="el">Indoor</div><div class="el">Cycling</div><div class="el">ΚΩΣΤΑΣ</div></div>
<div class="ev" style="left:1437.8px;top:672.4px;width:31.4px;height:47.8px;background:#f96565;border-color:#f15858;color:#fff"><div class="et">11:00 - 12</div><div class="el">Personal</div><div class="el">0/1</div></div>
<div class="ev" style="left:1373.0px;top:721.2px;width:95.8px;height:47.8px;background:#8db5f8;border-color:#81acf4;color:#fff"><div class="et">12:00 - 1:00</div><div class="el">Kangoo jumps</div><div class="el">0/8</div></div>
<div class="ev" style="left:1373.0px;top:770.0px;width:95.8px;height:47.8px;background:#f96565;border-color:#f15858;color:#fff"><div class="et">1:00 - 2:00</div><div class="el">Functional ΤΟΛΗΣ</div><div class="el">0/6</div></div>
<div class="ev" style="left:1373.0px;top:867.6px;width:95.8px;height:47.8px;background:#79c797;border-color:#6fc18e;color:#fff"><div class="et">3:00 - 4:00</div><div class="el">Body Pump ΛΑΜΠΗΣ</div><div class="el">0/10</div></div>
<div class="ev" style="left:1373.0px;top:916.4px;width:95.8px;height:47.8px;background:#e597de;border-color:#df8ed7;color:#fff"><div class="et">4:00 - 5:00</div><div class="el">Aerial Yoga HPO</div><div class="el">0/6</div></div>
<div class="ev" style="left:1341.3px;top:965.2px;width:64.1px;height:47.8px;background:#f8c66e;border-color:#f3be62;color:#fff"><div class="et">5:00 - 6:00</div><div class="el">Core &amp; Legs JU</div><div class="el">0/8</div></div>
<div class="ev" style="left:1405.4px;top:965.2px;width:63.4px;height:47.8px;background:#e1d572;border-color:#d9cc67;color:#fff"><div class="et">5:00 - 6:00</div><div class="el">Τραμπολίνο</div><div class="el">ΤΟΛΗΣ</div><div class="el">0/5</div></div>
<div class="ev" style="left:1341.3px;top:1014.0px;width:127.5px;height:47.8px;background:#f6e56c;border-color:#f1de5e;color:#fff"><div class="et">6:00 - 7:00</div><div class="el">Yoga ΖΩΗ</div></div>
    <div style="left:1469px;top:643px;width:4px;height:291px;background:#c8c8c8;border-radius:2px"></div>
  </div>

  <!-- footer -->
  <div style="left:428px;top:1051px;width:1410px;height:36px;background:#fff;border-top:1px solid #e4e4e4"></div>
  <div class="sshadow"></div>
  <div style="left:453px;top:1062px;font-size:13px;color:#555;line-height:15px;white-space:nowrap"><b style="color:#333">Copyright</b> InConomy by <span style="color:#2f7dc2">ITWORX</span> © 2026</div>
</div></div>
<div class="notch"></div>
<div style="left:1020px;top:35px;width:6px;height:6px;border-radius:50%;background:#10131f;box-shadow:inset 0 0 1px #2a3560"></div>

</body></html>
